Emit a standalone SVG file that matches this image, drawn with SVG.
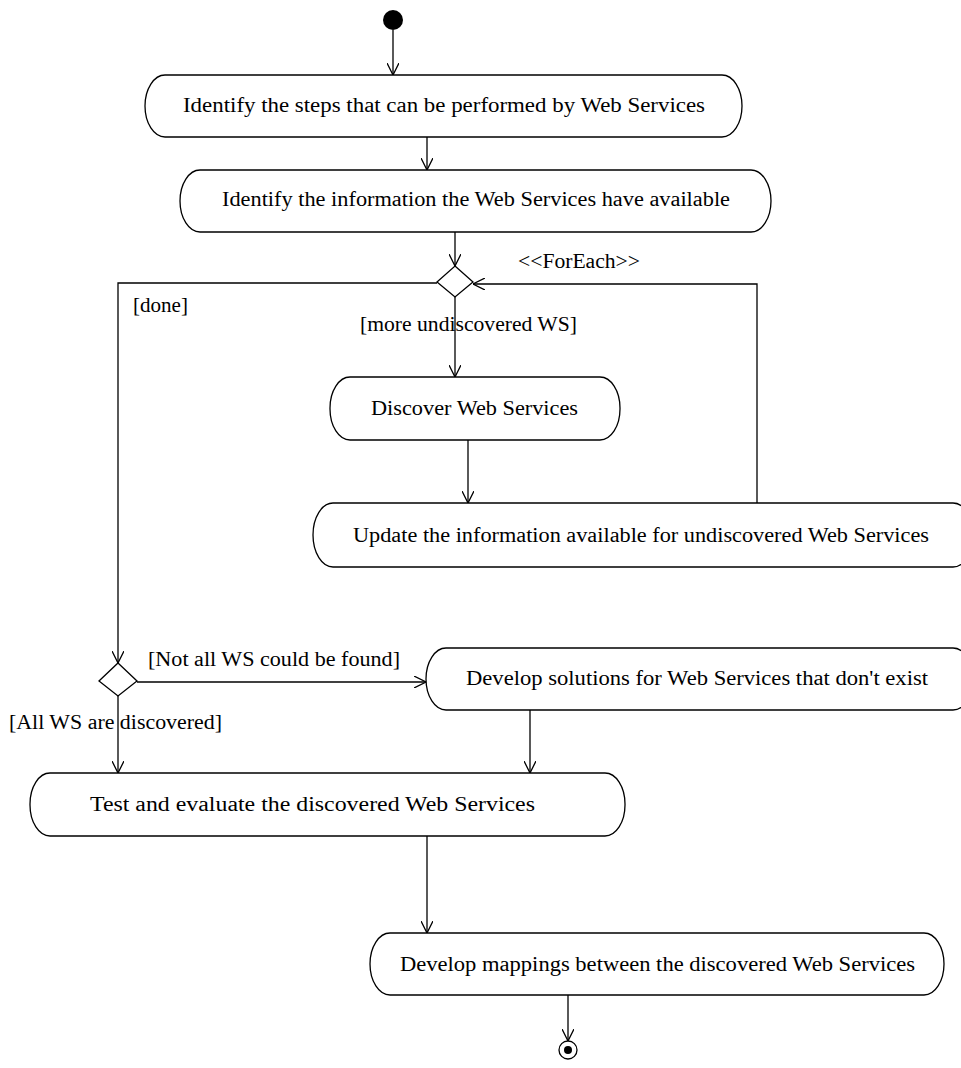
<svg xmlns="http://www.w3.org/2000/svg" width="961" height="1068" viewBox="0 0 961 1068">
  <style>
    .act { fill: #ffffff; stroke: #000000; stroke-width: 1.3; }
    .lbl { font-family: "Liberation Serif", "Times New Roman", serif; font-size: 20px; fill: #000000; }
    .flow { fill: none; stroke: #000000; stroke-width: 1.3; }
    .arr { marker-end: url(#open); }
  </style>
  <defs>
    <marker id="open" viewBox="0 0 12 12" refX="12" refY="6" markerWidth="12" markerHeight="12" markerUnits="userSpaceOnUse" orient="auto">
      <path d="M0,0 L12,6 L0,12" fill="none" stroke="#000" stroke-width="1.3"/>
    </marker>
  </defs>
  <rect width="961" height="1068" fill="#ffffff"/>

  <!-- connectors -->
  <g id="connectors">
    <line class="flow arr" x1="393" y1="30" x2="393" y2="75"/>
    <line class="flow arr" x1="427" y1="137" x2="427" y2="170"/>
    <line class="flow arr" x1="455" y1="232" x2="455" y2="266"/>
    <polyline class="flow arr" points="757,503 757,284 473,284"/>
    <polyline class="flow arr" points="437,283 118,283 118,663"/>
    <line class="flow arr" x1="455" y1="297" x2="455" y2="377"/>
    <line class="flow arr" x1="468" y1="440" x2="468" y2="503"/>
    <line class="flow arr" x1="137" y1="682" x2="426" y2="682"/>
    <line class="flow arr" x1="118" y1="696" x2="118" y2="773"/>
    <line class="flow arr" x1="530" y1="710" x2="530" y2="773"/>
    <line class="flow arr" x1="427" y1="836" x2="427" y2="933"/>
    <line class="flow arr" x1="568" y1="995" x2="568" y2="1041"/>
    <text class="lbl" x="518" y="268" textLength="122" lengthAdjust="spacingAndGlyphs">&lt;&lt;ForEach&gt;&gt;</text>
    <text class="lbl" x="133" y="312" textLength="55" lengthAdjust="spacingAndGlyphs">[done]</text>
    <text class="lbl" x="360" y="331" textLength="217" lengthAdjust="spacingAndGlyphs">[more undiscovered WS]</text>
    <text class="lbl" x="148" y="666" textLength="252" lengthAdjust="spacingAndGlyphs">[Not all WS could be found]</text>
    <text class="lbl" x="9" y="729" textLength="213" lengthAdjust="spacingAndGlyphs">[All WS are discovered]</text>
  </g>

  <!-- initial node -->
  <g id="start">
    <circle cx="393" cy="20" r="10" fill="#000"/>
  </g>

  <g id="identify-steps">
    <rect class="act" x="145" y="75" width="597" height="62" rx="20" ry="31"/>
    <text class="lbl" x="183" y="112" textLength="522" lengthAdjust="spacingAndGlyphs">Identify the steps that can be performed by Web Services</text>
  </g>

  <g id="identify-information">
    <rect class="act" x="180" y="170" width="591" height="62" rx="20" ry="31"/>
    <text class="lbl" x="222" y="206" textLength="508" lengthAdjust="spacingAndGlyphs">Identify the information the Web Services have available</text>
  </g>

  <g id="foreach-decision">
    <polygon class="act" points="455,266 473,282 455,297 437,282"/>
  </g>

  <g id="discover">
    <rect class="act" x="330" y="377" width="290" height="63" rx="20" ry="31"/>
    <text class="lbl" x="371" y="415" textLength="207" lengthAdjust="spacingAndGlyphs">Discover Web Services</text>
  </g>

  <g id="update-info">
    <rect class="act" x="313" y="503" width="660" height="64" rx="20" ry="32"/>
    <text class="lbl" x="353" y="542" textLength="576" lengthAdjust="spacingAndGlyphs">Update the information available for undiscovered Web Services</text>
  </g>

  <g id="found-decision">
    <polygon class="act" points="118,663 137,681 118,696 99,681"/>
  </g>

  <g id="develop-solutions">
    <rect class="act" x="426" y="648" width="547" height="62" rx="20" ry="31"/>
    <text class="lbl" x="466" y="685" textLength="462" lengthAdjust="spacingAndGlyphs">Develop solutions for Web Services that don't exist</text>
  </g>

  <g id="test-evaluate">
    <rect class="act" x="30" y="773" width="595" height="63" rx="20" ry="31"/>
    <text class="lbl" x="90" y="811" textLength="445" lengthAdjust="spacingAndGlyphs">Test and evaluate the discovered Web Services</text>
  </g>

  <g id="develop-mappings">
    <rect class="act" x="370" y="933" width="574" height="62" rx="20" ry="31"/>
    <text class="lbl" x="400" y="971" textLength="515" lengthAdjust="spacingAndGlyphs">Develop mappings between the discovered Web Services</text>
  </g>

  <g id="end">
    <circle cx="568" cy="1050" r="9" fill="#fff" stroke="#000" stroke-width="1.3"/>
    <circle cx="568" cy="1050" r="4" fill="#000"/>
  </g>
</svg>
